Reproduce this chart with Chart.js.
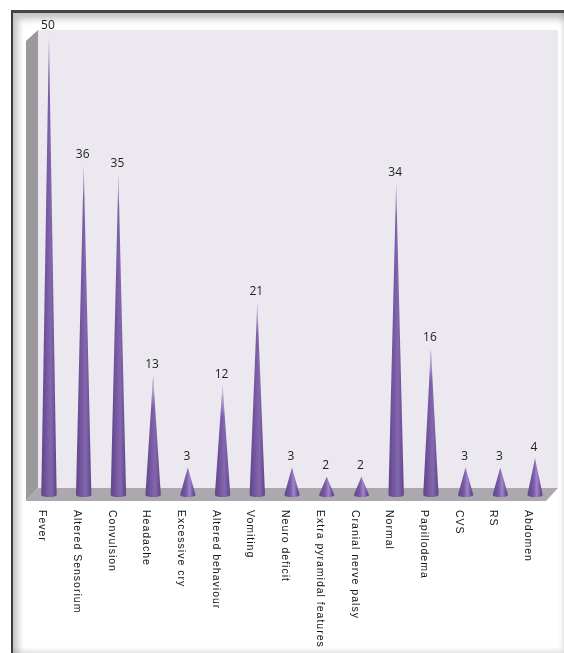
<!DOCTYPE html>
<html>
<head>
<meta charset="utf-8">
<style>
  html, body { margin: 0; padding: 0; background: #fff; }
  #frame {
    position: absolute; left: 11px; top: 10px; width: 553px; height: 643px;
    box-sizing: border-box;
    border-top: 3px solid #454545; border-left: 2px solid #3c3c3c;
    box-shadow: inset 5px 6px 7px rgba(0,0,0,0.24), inset -2px -3px 4px rgba(0,0,0,0.10);
  }
  #chartBox { position: absolute; left: 0; top: 0; width: 564px; height: 653px; }
</style>
</head>
<body>
<div id="frame"></div>
<div id="chartBox"><canvas id="symptomChart" width="564" height="653"></canvas></div>
<script src="https://cdn.jsdelivr.net/npm/chart.js@4"></script>
<script>
// ─── Data ─────────────────────────────────────────────────
const categories = [
  'Fever', 'Altered Sensorium', 'Convulsion', 'Headache', 'Excessive cry',
  'Altered behaviour', 'Vomiting', 'Neuro deficit', 'Extra pyramidal features',
  'Cranial nerve palsy', 'Normal', 'Papillodema', 'CVS', 'RS', 'Abdomen',
];
const cases = [50, 36, 35, 13, 3, 12, 21, 3, 2, 2, 34, 16, 3, 3, 4];

const CONE_HALF = 7.7;
const DEPTH_X = 12;

// ─── Box behind the cones: back wall, side wall, floor ────
const boxWalls = {
  id: 'boxWalls',
  beforeDatasetsDraw(chart) {
    const { ctx } = chart;
    const left = 26, right = 546, front = 501, back = 488, top = 30;
    ctx.save();
    ctx.fillStyle = '#ebe8f0';
    ctx.fillRect(left + DEPTH_X, top, right - left, back - top);
    ctx.fillStyle = '#9b999d';
    ctx.beginPath();
    ctx.moveTo(left, top + 11);
    ctx.lineTo(left + DEPTH_X, top);
    ctx.lineTo(left + DEPTH_X, back);
    ctx.lineTo(left, front);
    ctx.closePath();
    ctx.fill();
    ctx.fillStyle = '#aca8ae';
    ctx.beginPath();
    ctx.moveTo(left, front);
    ctx.lineTo(left + DEPTH_X, back);
    ctx.lineTo(right + DEPTH_X, back);
    ctx.lineTo(right, front);
    ctx.closePath();
    ctx.fill();
    ctx.restore();
  },
};

// ─── Cones, built from the bar elements ───────────────────
function coneFill(ctx, x, tall) {
  const side = ctx.createLinearGradient(x - CONE_HALF, 0, x + CONE_HALF, 0);
  // short cones catch more light than the long ones
  const mid = tall > 60 ? '#8468ae' : '#a084cc';
  side.addColorStop(0, '#5f4588');
  side.addColorStop(0.38, '#7659a2');
  side.addColorStop(0.62, mid);
  side.addColorStop(0.85, '#6f5299');
  side.addColorStop(1, '#5a4083');
  return side;
}

const coneBars = {
  id: 'coneBars',
  beforeDatasetDraw(chart, args) {
    const { ctx } = chart;
    args.meta.data.forEach((bar) => {
      const x = bar.x, tip = bar.y, base = bar.base;
      const tall = base - tip;
      ctx.save();
      ctx.beginPath();
      ctx.moveTo(x, tip);
      ctx.lineTo(x + CONE_HALF, base);
      ctx.ellipse(x, base, CONE_HALF, 2, 0, 0, Math.PI);
      ctx.closePath();
      ctx.fillStyle = coneFill(ctx, x, tall);
      ctx.fill();
      // tall cones wash out toward the tip
      if (tall > 60) {
        const wash = ctx.createLinearGradient(0, tip, 0, tip + 32);
        wash.addColorStop(0, 'rgba(235,232,240,0.85)');
        wash.addColorStop(1, 'rgba(235,232,240,0)');
        ctx.fillStyle = wash;
        ctx.fill();
      }
      ctx.restore();
    });
    return false;
  },
};

// ─── Value labels and downward-reading category labels ────
const coneLabels = {
  id: 'coneLabels',
  afterDatasetsDraw(chart) {
    const { ctx } = chart;
    const meta = chart.getDatasetMeta(0);
    ctx.save();
    meta.data.forEach((bar, i) => {
      ctx.fillStyle = '#222';
      ctx.font = '12px "Liberation Sans Narrow", "Open Sans"';
      ctx.textAlign = 'center';
      ctx.textBaseline = 'middle';
      ctx.fillText(String(cases[i]), bar.x - 1, bar.y - 11);

      ctx.save();
      ctx.translate(bar.x - 7, 510);
      ctx.rotate(Math.PI / 2);
      ctx.font = '10.5px "Liberation Sans"';
      ctx.letterSpacing = '1px';
      ctx.textAlign = 'left';
      ctx.textBaseline = 'middle';
      ctx.fillStyle = '#161616';
      ctx.fillText(categories[i], 0, 0);
      ctx.restore();
    });
    ctx.restore();
  },
};

// ─── Chart ────────────────────────────────────────────────
new Chart(document.getElementById('symptomChart').getContext('2d'), {
  type: 'bar',
  data: {
    labels: categories,
    datasets: [{ data: cases, backgroundColor: '#8468ae', borderWidth: 0 }],
  },
  plugins: [boxWalls, coneBars, coneLabels],
  options: {
    responsive: false,
    animation: false,
    layout: { padding: { left: 31.6, right: 11.6, top: 37, bottom: 158 } },
    plugins: { legend: { display: false }, tooltip: { enabled: false } },
    scales: {
      x: { display: false, grid: { display: false } },
      y: { display: false, min: 0, max: 50, grid: { display: false } },
    },
  },
});
</script>
</body>
</html>
